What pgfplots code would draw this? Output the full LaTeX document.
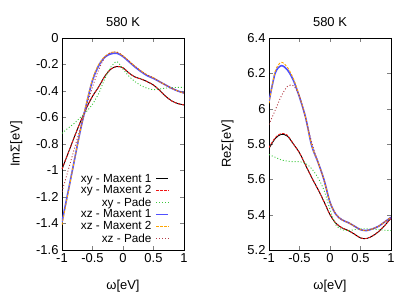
\documentclass[border=0pt]{standalone}
\usepackage{fontspec}
\setmainfont{Liberation Sans}
\usepackage{pgfplots}
\pgfplotsset{compat=1.18}
\usepackage{pgfplotstable}

\definecolor{cxy1}{RGB}{0,0,0}
\definecolor{cxy2}{RGB}{240,20,20}
\definecolor{cxy3}{RGB}{60,200,60}
\definecolor{cxz1}{RGB}{80,80,255}
\definecolor{cxz2}{RGB}{255,165,0}
\definecolor{cxz3}{RGB}{180,60,70}

% x, xy-Maxent1, xy-Maxent2, xy-Pade, xz-Maxent1, xz-Maxent2, xz-Pade
\pgfplotstableread{
x    a      b      c      d      e      f
-1.0 -0.99  -0.99  -0.72  -1.39  -1.41  -1.16
-0.9 -0.87  -0.87  -0.68  -1.16  -1.17  -1.00
-0.8 -0.75  -0.75  -0.645 -0.93  -0.93  -0.84
-0.7 -0.635 -0.635 -0.60  -0.70  -0.70  -0.68
-0.6 -0.53  -0.53  -0.555 -0.50  -0.49  -0.52
-0.5 -0.44  -0.44  -0.50  -0.32  -0.31  -0.37
-0.4 -0.37  -0.37  -0.42  -0.21  -0.20  -0.24
-0.3 -0.29  -0.29  -0.31  -0.145 -0.14  -0.15
-0.2 -0.235 -0.235 -0.22  -0.12  -0.11  -0.11
-0.1 -0.215 -0.215 -0.178 -0.115 -0.108 -0.105
0.0  -0.225 -0.225 -0.235 -0.14  -0.135 -0.135
0.1  -0.265 -0.265 -0.29  -0.18  -0.175 -0.175
0.2  -0.295 -0.295 -0.33  -0.22  -0.215 -0.215
0.3  -0.31  -0.31  -0.36  -0.255 -0.25  -0.25
0.4  -0.33  -0.33  -0.38  -0.285 -0.28  -0.28
0.5  -0.355 -0.355 -0.39  -0.305 -0.30  -0.30
0.6  -0.395 -0.395 -0.385 -0.33  -0.33  -0.33
0.7  -0.44  -0.44  -0.378 -0.355 -0.355 -0.355
0.8  -0.475 -0.475 -0.375 -0.38  -0.38  -0.38
0.9  -0.495 -0.495 -0.373 -0.40  -0.40  -0.40
1.0  -0.505 -0.505 -0.372 -0.415 -0.418 -0.415
}\imdata

\pgfplotstableread{
x    a     b     c     d     e     f
-1.0 5.775 5.78  5.74  6.04  6.03  5.91
-0.9 5.83  5.835 5.725 6.20  6.21  5.99
-0.8 5.855 5.86  5.71  6.243 6.262 6.07
-0.7 5.845 5.85  5.703 6.22  6.235 6.125
-0.6 5.80  5.80  5.70  6.16  6.17  6.13
-0.5 5.75  5.75  5.70  6.065 6.07  6.07
-0.4 5.68  5.68  5.69  5.95  5.95  5.945
-0.3 5.61  5.61  5.66  5.79  5.79  5.81
-0.2 5.545 5.545 5.61  5.70  5.70  5.70
-0.1 5.475 5.475 5.54  5.60  5.60  5.595
0.0  5.40  5.40  5.43  5.47  5.47  5.47
0.1  5.35  5.35  5.34  5.40  5.40  5.40
0.2  5.325 5.325 5.315 5.37  5.37  5.37
0.3  5.31  5.31  5.31  5.355 5.355 5.355
0.4  5.29  5.29  5.315 5.335 5.335 5.335
0.5  5.268 5.268 5.32  5.315 5.315 5.315
0.6  5.265 5.265 5.32  5.31  5.31  5.31
0.7  5.28  5.28  5.318 5.32  5.32  5.32
0.8  5.305 5.305 5.315 5.335 5.335 5.335
0.9  5.34  5.34  5.312 5.36  5.36  5.36
1.0  5.38  5.38  5.31  5.385 5.385 5.385
}\redata

\newcommand\chartfont{\fontsize{13}{15}\selectfont}

\pgfplotsset{
  panel/.style={
    scale only axis, width=122bp, height=212bp,
    xmin=-1, xmax=1, xtick={-1,-0.5,0,0.5,1},
    tick align=inside, major tick length=4bp,
    /pgf/number format/assume math mode=true,
    tick label style={font=\chartfont},
    label style={font=\chartfont},
    title style={font=\chartfont, yshift=2bp},
    title={580 K},
    xlabel={ω[eV]},
    xlabel shift=11bp,
    ylabel shift=7bp,
    every axis plot/.append style={smooth, line width=0.9pt},
  },
  sxy1/.style={cxy1},
  sxy2/.style={cxy2, dash pattern=on 2.5pt off 1.5pt},
  sxy3/.style={cxy3, dash pattern=on 1pt off 2pt},
  sxz1/.style={cxz1, line width=1.6pt},
  sxz2/.style={cxz2, dash pattern=on 2.5pt off 1.5pt},
  sxz3/.style={cxz3, dash pattern=on 1pt off 2pt},
}

\begin{document}
\begin{tikzpicture}
\path (-62bp,-41bp) rectangle (353bp,250bp);
\begin{axis}[panel, at={(0,0)}, anchor=south west,
  ymin=-1.6, ymax=0, ytick={-1.6,-1.4,...,0},
  ylabel={ImΣ[eV]},
  legend plot pos=right, legend cell align=right,
  legend image code/.code={\draw[#1, smooth=false] (0bp,0bp) -- (12bp,0bp);},
  legend style={draw=none, fill=none, font=\fontsize{11.8}{14}\selectfont,
    at={(axis description cs:0.905,0.015)}, anchor=south east,
    nodes={inner sep=1.1bp},
    column sep=3bp, row sep=0pt},
]
\addplot[sxy1] table[x=x,y=a] {\imdata};
\addlegendentry{xy - Maxent 1}
\addplot[sxy2] table[x=x,y=b] {\imdata};
\addlegendentry{xy - Maxent 2}
\addplot[sxy3] table[x=x,y=c] {\imdata};
\addlegendentry{xy - Pade}
\addplot[sxz1] table[x=x,y=d] {\imdata};
\addlegendentry{xz - Maxent 1}
\addplot[sxz2] table[x=x,y=e] {\imdata};
\addlegendentry{xz - Maxent 2}
\addplot[sxz3] table[x=x,y=f] {\imdata};
\addlegendentry{xz - Pade}
\end{axis}
\begin{axis}[panel, at={(207bp,0)}, anchor=south west,
  ymin=5.2, ymax=6.4, ytick={5.2,5.4,...,6.41},
  ylabel={ReΣ[eV]},
]
\addplot[sxy1] table[x=x,y=a] {\redata};
\addplot[sxy2] table[x=x,y=b] {\redata};
\addplot[sxy3] table[x=x,y=c] {\redata};
\addplot[sxz1] table[x=x,y=d] {\redata};
\addplot[sxz2] table[x=x,y=e] {\redata};
\addplot[sxz3] table[x=x,y=f] {\redata};
\end{axis}
\end{tikzpicture}
\end{document}
